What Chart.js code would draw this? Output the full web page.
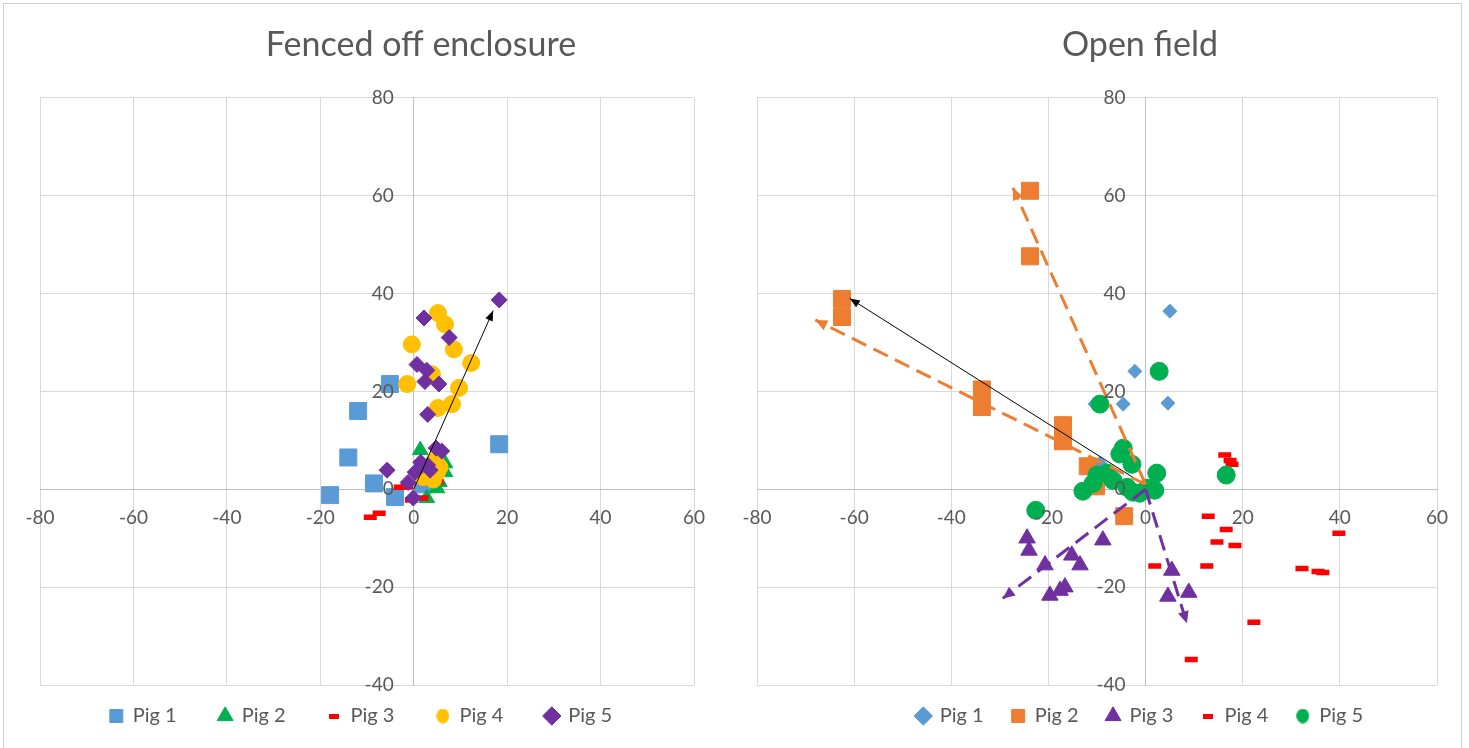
<!DOCTYPE html>
<html>
<head>
<meta charset="utf-8">
<script src="https://cdn.jsdelivr.net/npm/chart.js@4.4.1/dist/chart.umd.min.js"></script>
<style>
  html, body { margin: 0; padding: 0; background: #fff; overflow: hidden; }
  #page { position: relative; width: 1469px; height: 748px; overflow: hidden; background: #fff; }
  #fenced { position: absolute; left: 0; top: 0; }
  #open { position: absolute; left: 725px; top: 0; }
  #frame { position: absolute; left: 3px; top: 3px; width: 1457px; height: 760px; border: 1px solid #d0d0d0; pointer-events: none; }
</style>
</head>
<body>
<div id="page">
  <canvas id="fenced" width="722" height="800"></canvas>
  <canvas id="open" width="744" height="800"></canvas>
  <div id="frame"></div>
</div>
<script>
// axis ticks (both panels share them)
var xTicks = [-80, -60, -40, -20, 0, 20, 40, 60];
var yTicks = [-40, -20, 0, 20, 40, 60, 80];
var pigNames = ['Pig 1', 'Pig 2', 'Pig 3', 'Pig 4', 'Pig 5'];

// Fenced off enclosure  [x, y]
var fencedPig1 = [[-17.9, -1.2], [-14, 6.5], [-11.9, 16], [-5.1, 21.5], [-8.5, 1.2], [18.3, 9.2], [-4, -1.6], [2, 1]];
var fencedPig2 = [[1.4, 8], [6.7, 5.3], [6.7, 3.5], [5, 0.2], [2.8, -1.8], [4.5, 2], [3.5, 4], [5.5, 1.5]];
var fencedPig3 = [[-9.3, -5.7], [-7.4, -4.9], [-2.9, 0.4], [-0.5, -2.2], [1.8, -1.8], [4.8, 2.5], [5, 1.5], [-1.5, 0.5]];
var fencedPig4 = [[5.2, 36], [6.7, 33.7], [-0.4, 29.6], [8.6, 28.6], [12.3, 25.8], [-1.4, 21.5], [3.9, 23.5], [9.7, 20.7],
                  [5.2, 16.6], [8.2, 17.4], [4.6, 6], [5, 3.5], [2, 2.5], [4.2, 2], [5.5, 4.5]];
var fencedPig5 = [[18.3, 38.7], [2.2, 35], [7.6, 31], [0.7, 25.5], [2.8, 24.3], [2.4, 22], [5.4, 21.5], [3, 15.3],
                  [4.8, 8.4], [6, 7.8], [-5.7, 3.9], [0.3, 3.5], [3, 4.9], [3.5, 3.9], [-1.2, 1.4], [-0.1, -1.8], [1.5, 5.5]];
var fencedArrow = [[0, 0], [17, 36.5]];

// Open field  [x, y]
var openPig1 = [[5, 36.4], [-2.2, 24.1], [-4.6, 17.4], [4.6, 17.6], [-10.4, 17.4], [-9.4, 5.3], [-9, 2.9]];
var openPig2 = [[-23.8, 61], [-23.8, 47.6], [-62.5, 38.9], [-62.5, 35.2], [-33.7, 20.4], [-33.7, 16.8], [-17, 13.1],
                [-17, 9.8], [-11.9, 4.7], [-10.2, 0.6], [-4.4, -5.5]];
var openPig3 = [[-24.4, -10], [-24, -12.5], [-20.7, -15.5], [-19.7, -21.7], [-17.6, -20.7], [-16.6, -20], [-15.2, -13.5],
                [-13.5, -15.5], [-8.8, -10.4], [5.4, -16.6], [4.6, -21.9], [8.9, -21.1], [0.3, -0.8]];
var openPig4 = [[12.9, -5.5], [16.6, -8.2], [14.7, -10.8], [18.4, -11.5], [1.9, -15.7], [12.6, -15.7], [32.2, -16.2],
                [35.5, -16.8], [36.5, -17], [39.8, -9], [22.3, -27.2], [9.4, -34.8], [16.3, 7], [17.4, 5.9], [17.8, 5.1]];
var openPig5 = [[2.8, 24.1], [-9.4, 17.4], [16.6, 2.9], [-22.6, -4.3], [-4.6, 8.4], [-5.3, 7.2], [-2.8, 5.1], [2.3, 3.3],
                [-12.9, -0.4], [-10.8, 1.2], [-10, 2.9], [-7.9, 3.3], [-6.7, 1.8], [-3.8, 0.4], [-2.6, -0.6], [0.3, 0.2],
                [1.9, -0.2], [-1.2, -0.8]];
var openArrowOrangeA = [[0, 1], [-68, 34.6]];
var openArrowOrangeB = [[0, 1], [-27.3, 61.6]];
var openArrowBlack = [[0, 0.8], [-60.9, 39]];
var openArrowPurpleA = [[0, 0], [-29.4, -22.3]];
var openArrowPurpleB = [[0, 0], [8.5, -27.4]];

var blue = '#5B9BD5', orange = '#ED7D31', green = '#00B050', red = '#FF0000', yellow = '#FFC000', purple = '#7030A0';
var grey = '#595959';

Chart.defaults.font.family = 'Lato';
Chart.defaults.color = grey;

function toXY(list) {
  return list.map(function (p) { return { x: p[0], y: p[1] }; });
}

// small legend swatches for the dash and circle markers (Excel draws them small)
function swatch(kind, color) {
  var c = document.createElement('canvas');
  if (kind === 'line') {
    c.width = 10; c.height = 5;
  } else {
    c.width = 13; c.height = 15;
  }
  var g = c.getContext('2d');
  g.fillStyle = color;
  if (kind === 'line') {
    g.fillRect(0, 0, 10, 5);
  } else {
    g.beginPath();
    g.ellipse(6.5, 7.5, 6.3, 7.3, 0, 0, Math.PI * 2);
    g.fill();
  }
  return c;
}

function pigSet(i, pts, style, color, radius) {
  return {
    label: pigNames[i],
    data: toXY(pts),
    showLine: false,
    pointStyle: style,
    pointRadius: radius,
    pointHoverRadius: radius,
    backgroundColor: color,
    borderColor: color,
    pointBorderWidth: style === 'line' ? 5.5 : 1,
    legendMark: (style === 'line' || style === 'circle') ? swatch(style, color) : null,
    order: 10 - i   // later pigs drawn on top, like the original
  };
}

function arrowSet(pts, color, width, dash, head) {
  return {
    label: '',
    data: toXY(pts),
    showLine: true,
    isArrow: true,
    borderColor: color,
    backgroundColor: color,
    borderWidth: width,
    borderDash: dash,
    pointRadius: 0,
    pointHoverRadius: 0,
    arrowHead: head,
    order: -1
  };
}

// filled arrow heads at the last point of arrow datasets
var arrowHeads = {
  id: 'arrowHeads',
  afterDatasetsDraw: function (chart) {
    var ctx = chart.ctx;
    chart.data.datasets.forEach(function (ds, i) {
      if (!ds.arrowHead) return;
      var pts = chart.getDatasetMeta(i).data;
      var a = pts[pts.length - 2], b = pts[pts.length - 1];
      var ang = Math.atan2(b.y - a.y, b.x - a.x);
      var len = ds.arrowHead[0], half = ds.arrowHead[1];
      var bx = b.x - len * Math.cos(ang), by = b.y - len * Math.sin(ang);
      ctx.save();
      ctx.fillStyle = ds.borderColor;
      ctx.beginPath();
      ctx.moveTo(b.x, b.y);
      ctx.lineTo(bx + half * Math.sin(ang), by - half * Math.cos(ang));
      ctx.lineTo(bx - half * Math.sin(ang), by + half * Math.cos(ang));
      ctx.closePath();
      ctx.fill();
      ctx.restore();
    });
  }
};

// tick labels sit beside the zero lines, on top of the markers (Excel style)
var zeroAxisLabels = {
  id: 'zeroAxisLabels',
  afterDatasetsDraw: function (chart) {
    var ctx = chart.ctx, xs = chart.scales.x, ys = chart.scales.y;
    var x0 = xs.getPixelForValue(0), y0 = ys.getPixelForValue(0);
    ctx.save();
    ctx.fillStyle = grey;
    ctx.font = '19px Lato';
    ctx.textBaseline = 'middle';
    ctx.textAlign = 'center';
    xTicks.forEach(function (v) { ctx.fillText(String(v), xs.getPixelForValue(v), y0 + 29); });
    ctx.textAlign = 'right';
    yTicks.forEach(function (v) { ctx.fillText(String(v), x0 - 20, ys.getPixelForValue(v)); });
    ctx.restore();
  }
};

// move title and legend to where Excel put them
var boxPlace = {
  id: 'boxPlace',
  afterLayout: function (chart, args, opts) {
    var t = chart.titleBlock, lg = chart.legend;
    var dt = opts.titleX - (t.left + t.right) / 2;
    t.left += dt; t.right += dt;
    var dl = opts.legendX - (lg.left + lg.right) / 2;
    lg.left += dl; lg.right += dl;
    var centre = lg.top + lg.options.labels.padding + 10;
    var dy = opts.legendY - centre;
    lg.top += dy; lg.bottom += dy;
  }
};

function makeOptions(title, pad, legendPad, place) {
  return {
    responsive: false,
    animation: false,
    layout: { padding: pad },
    scales: {
      x: {
        type: 'linear',
        min: -80, max: 60,
        position: { y: 0 },
        afterBuildTicks: function (s) { s.ticks = xTicks.map(function (v) { return { value: v }; }); },
        ticks: { display: false },
        grid: { color: '#d9d9d9', drawTicks: false },
        border: { color: '#bfbfbf' }
      },
      y: {
        type: 'linear',
        min: -40, max: 80,
        position: { x: 0 },
        afterBuildTicks: function (s) { s.ticks = yTicks.map(function (v) { return { value: v }; }); },
        ticks: { display: false },
        grid: { color: '#d9d9d9', drawTicks: false },
        border: { color: '#bfbfbf' }
      }
    },
    plugins: {
      title: {
        display: true, text: title, color: grey,
        font: { size: 34, weight: 'normal' },
        padding: { top: 25, bottom: 32 }
      },
      legend: {
        position: 'bottom',
        labels: {
          usePointStyle: true, boxWidth: 13, boxHeight: 13,
          padding: legendPad, color: grey, font: { size: 20 },
          generateLabels: function (chart) {
            var items = Chart.defaults.plugins.legend.labels.generateLabels(chart);
            items.forEach(function (it) {
              var ds = chart.data.datasets[it.datasetIndex];
              if (ds.legendMark) it.pointStyle = ds.legendMark;
            });
            return items;
          },
          filter: function (item, data) { return !data.datasets[item.datasetIndex].isArrow; },
          sort: function (a, b) { return a.datasetIndex - b.datasetIndex; }
        }
      },
      boxPlace: place,
      tooltip: { enabled: false }
    }
  };
}

new Chart(document.getElementById('fenced'), {
  type: 'scatter',
  data: {
    datasets: [
      pigSet(0, fencedPig1, 'rect', blue, 12),
      pigSet(1, fencedPig2, 'triangle', green, 9),
      pigSet(2, fencedPig3, 'line', red, 6.5),
      pigSet(3, fencedPig4, 'circle', yellow, 8.5),
      pigSet(4, fencedPig5, 'rectRot', purple, 8),
      arrowSet(fencedArrow, '#000000', 1, [], [10, 4])
    ]
  },
  options: makeOptions('Fenced off enclosure', { left: 40, right: 28, top: 0, bottom: 43 }, 42,
                       { titleX: 421, legendX: 361, legendY: 716 }),
  plugins: [zeroAxisLabels, arrowHeads, boxPlace]
});

new Chart(document.getElementById('open'), {
  type: 'scatter',
  data: {
    datasets: [
      pigSet(0, openPig1, 'rectRot', blue, 7),
      pigSet(1, openPig2, 'rect', orange, 12),
      pigSet(2, openPig3, 'triangle', purple, 9.5),
      pigSet(3, openPig4, 'line', red, 6.5),
      pigSet(4, openPig5, 'circle', green, 9),
      arrowSet(openArrowOrangeA, orange, 3, [16, 8], [12, 5.5]),
      arrowSet(openArrowOrangeB, orange, 3, [16, 8], [12, 5.5]),
      arrowSet(openArrowBlack, '#000000', 1, [], [10, 4]),
      arrowSet(openArrowPurpleA, purple, 3, [16, 8], [12, 5.5]),
      arrowSet(openArrowPurpleB, purple, 3, [16, 8], [12, 5.5])
    ]
  },
  options: makeOptions('Open field', { left: 32, right: 32, top: 0, bottom: 57 }, 28,
                       { titleX: 415, legendX: 415, legendY: 716 }),
  plugins: [zeroAxisLabels, arrowHeads, boxPlace]
});
</script>
</body>
</html>
